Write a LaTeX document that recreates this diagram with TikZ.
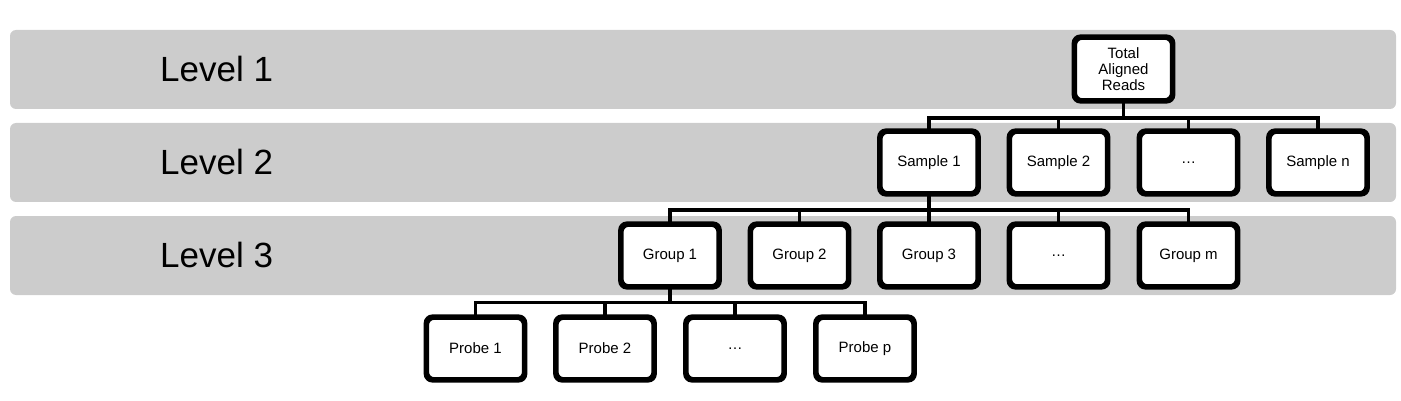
\documentclass[tikz,border=0pt]{standalone}
\usepackage{fontspec}
\setmainfont{Liberation Sans}
\begin{document}
\begin{tikzpicture}[x=1pt,y=-1pt,
  band/.style={fill=bandgray, draw=none, rounded corners=6pt},
  levellabel/.style={font=\fontsize{35}{40}\selectfont, anchor=west, inner sep=0pt},
  box/.style={draw=black, fill=white, line width=3.6pt, rounded corners=7pt,
    minimum width=96.5pt, minimum height=61pt, inner sep=1pt, align=center,
    font=\fontsize{15}{16}\selectfont},
  conn/.style={draw=black, line width=3.6pt, line cap=rect, line join=miter}]
\definecolor{bandgray}{HTML}{CCCCCC}
\useasboundingbox (0,0) rectangle (1401,401);
% bands
\path[band] (10,30) rectangle (1396,109);
\path[band] (10,123) rectangle (1396,202);
\path[band] (10,216) rectangle (1396,295);
\node[levellabel] (l1) at (160,69) {Level 1};
\node[levellabel] (l2) at (160,162) {Level 2};
\node[levellabel] (l3) at (160,255) {Level 3};
% bus coordinates
\coordinate (bus1) at (0,118);
\coordinate (bus2) at (0,210);
\coordinate (bus3) at (0,302.5);
% nodes
\node[box, minimum height=62pt] (total) at (1123.5,69) {Total\\Aligned\\Reads};
\node[box] (s1) at (929,162.5) {Sample 1};
\node[box] (s2) at (1058.5,162.5) {Sample 2};
\node[box] (s3) at (1188.5,162.5) {\dots};
\node[box] (sn) at (1318,162.5) {Sample n};
\node[box] (g1) at (670,255.5) {Group 1};
\node[box] (g2) at (799.5,255.5) {Group 2};
\node[box] (g3) at (929,255.5) {Group 3};
\node[box] (g4) at (1058.5,255.5) {\dots};
\node[box] (gm) at (1188.5,255.5) {Group m};
\node[box] (p1) at (475.5,348.5) {Probe 1};
\node[box] (p2) at (605,348.5) {Probe 2};
\node[box] (p3) at (735,348.5) {\dots};
\node[box] (pp) at (865,348.5) {Probe p};
% connectors
\foreach \c in {s1,s2,s3,sn}
  \draw[conn] (total.south) -- (total.south |- bus1) -| (\c.north);
\foreach \c in {g1,g2,g3,g4,gm}
  \draw[conn] (s1.south) -- (s1.south |- bus2) -| (\c.north);
\foreach \c in {p1,p2,p3,pp}
  \draw[conn] (g1.south) -- (g1.south |- bus3) -| (\c.north);
% redraw boxes on top of connectors
\foreach \n in {total,s1,s2,s3,sn,g1,g2,g3,g4,gm,p1,p2,p3,pp}
  \draw[line width=3.6pt, rounded corners=7pt] (\n.south west) rectangle (\n.north east);
\end{tikzpicture}
\end{document}
